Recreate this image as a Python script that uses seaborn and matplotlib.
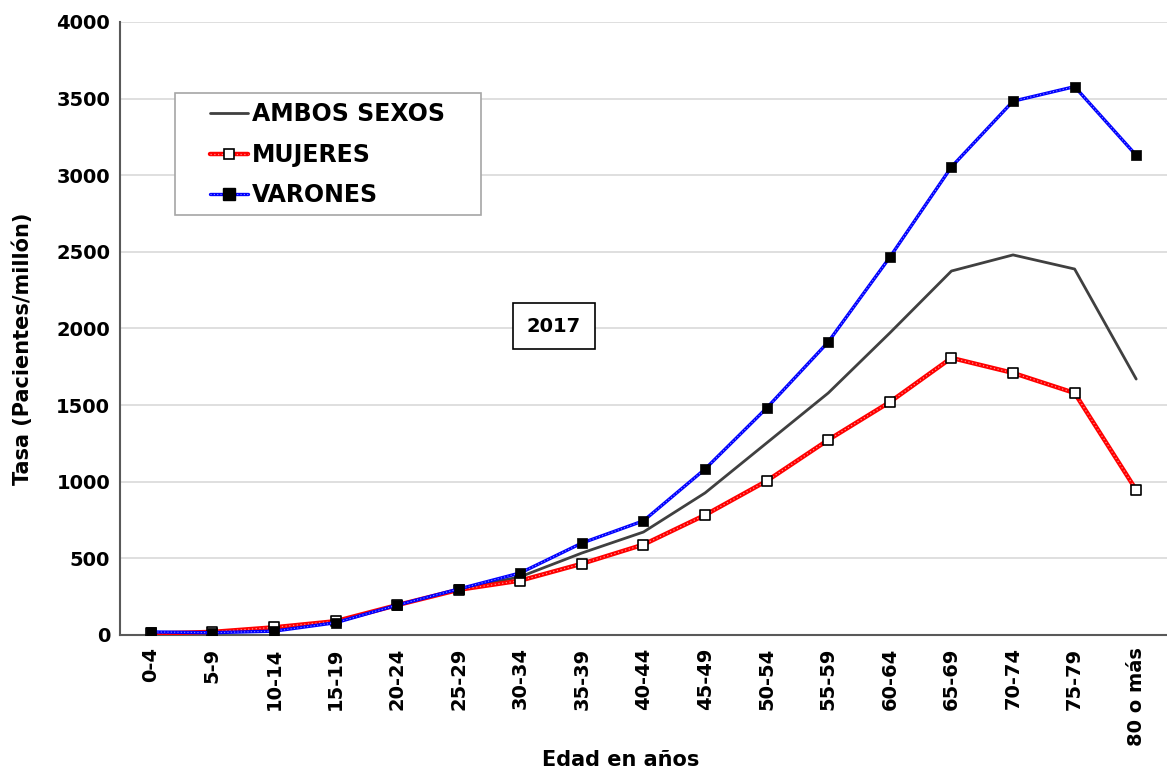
import numpy as np
import pandas as pd
import matplotlib
matplotlib.use('Agg')
import matplotlib.pyplot as plt
import seaborn as sns
from matplotlib.lines import Line2D
from matplotlib.patches import Rectangle
from matplotlib.legend_handler import HandlerTuple

edades = ['0-4', '5-9', '10-14', '15-19', '20-24', '25-29', '30-34', '35-39',
          '40-44', '45-49', '50-54', '55-59', '60-64', '65-69', '70-74', '75-79', '80 o más']
ambos = [15, 18, 38, 85, 195, 298, 380, 535, 672, 927, 1253, 1579, 1971, 2375, 2480, 2388, 1670]
mujeres = [10, 20, 50, 90, 195, 295, 355, 465, 590, 783, 1005, 1273, 1520, 1808, 1710, 1579, 946]
varones = [20, 15, 25, 80, 195, 300, 405, 600, 745, 1083, 1481, 1912, 2465, 3054, 3483, 3578, 3130]
y_ticks = [0, 500, 1000, 1500, 2000, 2500, 3000, 3500, 4000]

sns.set_theme(style='white')
plt.rcParams['font.family'] = ['DejaVu Sans']
plt.rcParams['font.weight'] = 'bold'
plt.rcParams['axes.labelweight'] = 'bold'
plt.rcParams['text.color'] = 'black'
plt.rcParams['axes.labelcolor'] = 'black'
plt.rcParams['xtick.color'] = 'black'
plt.rcParams['ytick.color'] = 'black'

fig = plt.figure(figsize=(11.67, 7.71), dpi=100)
ax = fig.add_axes([0.1028, 0.1764, 0.8972, 0.7951])

df = pd.DataFrame({'Edad': edades, 'AMBOS SEXOS': ambos,
                   'MUJERES': mujeres, 'VARONES': varones})
pos = np.arange(len(edades))

# AMBOS SEXOS
sns.lineplot(data=df, x='Edad', y='AMBOS SEXOS', ax=ax, color='#404040',
             lw=2, zorder=3, sort=False)
# MUJERES
sns.lineplot(data=df, x='Edad', y='MUJERES', ax=ax, color='#ff0000',
             lw=3.2, zorder=4, sort=False)
ax.plot(pos, mujeres, color='white', lw=0.9, ls=(0, (1, 2)), alpha=0.55, zorder=4.2)
sns.scatterplot(data=df, x='Edad', y='MUJERES', ax=ax, marker='s', s=52,
                color='white', edgecolor='black', linewidth=1.2, zorder=4.5)
# VARONES
sns.lineplot(data=df, x='Edad', y='VARONES', ax=ax, color='#0000ff',
             lw=2.4, zorder=5, sort=False)
ax.plot(pos, varones, color='white', lw=0.8, ls=(0, (1, 2)), alpha=0.55, zorder=5.2)
sns.scatterplot(data=df, x='Edad', y='VARONES', ax=ax, marker='s', s=62,
                color='black', edgecolor='black', linewidth=0.5, zorder=5.5)

ax.set_xlim(-0.5, len(edades) - 0.5)
ax.set_ylim(0, 4000)
ax.set_yticks(y_ticks)
ax.set_yticklabels([str(v) for v in y_ticks], fontsize=14, fontweight='bold')
ax.set_xticks(pos)
ax.set_xticklabels(edades, rotation=90, fontsize=14, fontweight='bold')
ax.tick_params(axis='both', length=0, colors='black')
ax.tick_params(axis='y', pad=7)
ax.tick_params(axis='x', pad=9)

ax.yaxis.grid(True, color='#d9d9d9', lw=1.2)
ax.xaxis.grid(False)
ax.set_axisbelow(True)
for s in ['top', 'right']:
    ax.spines[s].set_visible(False)
for s in ['left', 'bottom']:
    ax.spines[s].set_color('#595959')
    ax.spines[s].set_linewidth(1.5)

ax.set_xlabel('Edad en años', fontsize=15, fontweight='bold')
ax.set_ylabel('Tasa (Pacientes/millón)', fontsize=15, fontweight='bold')
ax.xaxis.set_label_coords(0.4785, -0.188)
ax.yaxis.set_label_coords(-0.083, 0.467)

# Legend
h_ambos = Line2D([], [], color='#404040', lw=2)
h_muj = (Line2D([], [], color='#ff0000', lw=3.2),
         Line2D([], [], color='white', lw=0.9, ls=(0, (1, 2)), alpha=0.55),
         Line2D([], [], ls='none', marker='s', ms=7, mfc='white', mec='black', mew=1.2))
h_var = (Line2D([], [], color='#0000ff', lw=2.4),
         Line2D([], [], color='white', lw=0.8, ls=(0, (1, 2)), alpha=0.55),
         Line2D([], [], ls='none', marker='s', ms=8, mfc='black', mec='black'))
leg = ax.legend([h_ambos, h_muj, h_var], ['AMBOS SEXOS', 'MUJERES', 'VARONES'],
                handler_map={tuple: HandlerTuple(ndivide=1)},
                loc='upper left', bbox_to_anchor=(0.086, 0.869), borderaxespad=0,
                frameon=False, handlelength=1.6, handletextpad=0.17,
                labelspacing=0.70, borderpad=0, prop={'weight': 'bold', 'size': 17})
leg.set_zorder(10)
ax.add_patch(Rectangle((0.0525, 0.685), 0.2923, 0.199, transform=ax.transAxes,
                       facecolor='white', edgecolor='#a6a6a6', lw=1.2, zorder=9))

ax.text(0.4145, 0.504, '2017', transform=ax.transAxes, ha='center', va='center',
        fontsize=14, fontweight='bold', zorder=10,
        bbox=dict(boxstyle='square,pad=0.7', facecolor='white', edgecolor='black', lw=1.2))

fig.savefig('out.png', dpi=100)
